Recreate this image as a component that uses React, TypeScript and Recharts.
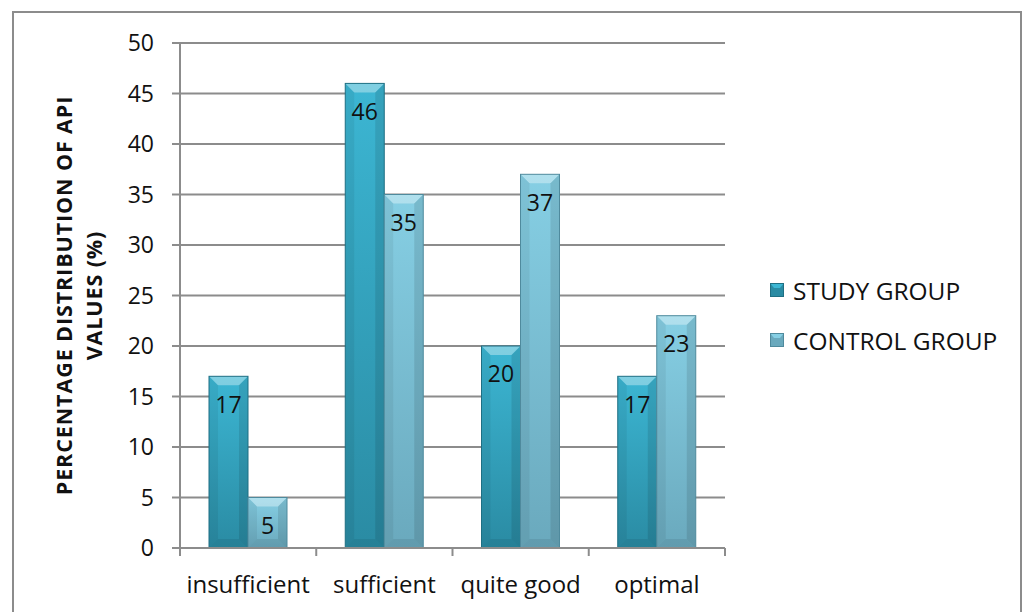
import React from 'react';
import {
  BarChart,
  Bar,
  XAxis,
  YAxis,
  CartesianGrid,
  LabelList,
  Label
} from 'recharts';

const categories = ['insufficient', 'sufficient', 'quite good', 'optimal'];
const studyGroup = [17, 46, 20, 17];
const controlGroup = [5, 35, 37, 23];
const yTicks = [0, 5, 10, 15, 20, 25, 30, 35, 40, 45, 50];

const data = categories.map((name, i) => ({
  name,
  study: studyGroup[i],
  control: controlGroup[i]
}));

const FONT = '"Open Sans", "Noto Sans", sans-serif';
const GRID = '#8c8c8c';
const BAND = (725 - 180) / categories.length;

const series = [
  { key: 'study', name: 'STUDY GROUP', top: '#3cb6d3', bottom: '#2a8ba3', edge: '#1f6f83' },
  { key: 'control', name: 'CONTROL GROUP', top: '#86cfe4', bottom: '#6aa9bd', edge: '#4f8a9d' }
];

const BevelBar = (props: any) => {
  const { x, y, width, height, gradId, edge } = props;
  if (!height || height <= 0) return null;
  const b = Math.min(9, height / 2, width / 2);
  return (
    <g>
      <rect x={x} y={y} width={width} height={height} fill={`url(#${gradId})`} />
      <polygon
        points={`${x},${y} ${x + width},${y} ${x + width - b},${y + b} ${x + b},${y + b}`}
        fill="#ffffff"
        fillOpacity={0.35}
      />
      <polygon
        points={`${x},${y} ${x + b},${y + b} ${x + b},${y + height - b} ${x},${y + height}`}
        fill="#000000"
        fillOpacity={0.06}
      />
      <polygon
        points={`${x + width},${y} ${x + width - b},${y + b} ${x + width - b},${y + height - b} ${x + width},${y + height}`}
        fill="#000000"
        fillOpacity={0.1}
      />
      <polygon
        points={`${x},${y + height} ${x + b},${y + height - b} ${x + width - b},${y + height - b} ${x + width},${y + height}`}
        fill="#000000"
        fillOpacity={0.08}
      />
      <rect x={x} y={y} width={width} height={height} fill="none" stroke={edge} strokeWidth={1} />
    </g>
  );
};

const CategoryTick = (props: any) => {
  const { x, y, payload, index } = props;
  const half = BAND / 2;
  return (
    <g>
      <line x1={x - half} y1={y - 8} x2={x - half} y2={y} stroke={GRID} strokeWidth={2} />
      {index === categories.length - 1 && (
        <line x1={x + half} y1={y - 8} x2={x + half} y2={y} stroke={GRID} strokeWidth={2} />
      )}
      <text x={x} y={y + 37} textAnchor="middle" fontFamily={FONT} fontSize={24} fill="#111">
        {payload.value}
      </text>
    </g>
  );
};

const ChartLegend = () => (
  <div
    style={{
      position: 'absolute',
      left: 770,
      top: 265,
      fontFamily: FONT,
      fontSize: 24.5,
      color: '#111'
    }}
  >
    {series.map((s) => (
      <div key={s.key} style={{ display: 'flex', alignItems: 'center', height: 50 }}>
        <svg width={14} height={14} style={{ marginRight: 9 }}>
          <rect x={0} y={0} width={14} height={14} fill={s.bottom} />
          <polygon points="0,0 14,0 10,5 4,5" fill={s.top} />
          <rect x={0.5} y={0.5} width={13} height={13} fill="none" stroke={s.edge} />
        </svg>
        <span>{s.name}</span>
      </div>
    ))}
  </div>
);

const AxisTitle = (props: any) => {
  const cy = props.viewBox ? props.viewBox.y + props.viewBox.height / 2 : 295;
  return (
    <text
      transform={`rotate(-90, 80, ${cy})`}
      x={80}
      y={cy}
      textAnchor="middle"
      fontFamily={FONT}
      fontSize={21.5}
      fontWeight="bold"
      letterSpacing={0.9}
      fill="#111"
    >
      <tspan x={80} dy={-8}>PERCENTAGE DISTRIBUTION OF API</tspan>
      <tspan x={80} dy={30}>VALUES (%)</tspan>
    </text>
  );
};

const App = () => {
  return (
    <div style={{ position: 'absolute', left: 0, top: 0, width: 1024, height: 612, background: '#fff', overflow: 'hidden' }}>
      <div
        style={{
          position: 'absolute',
          left: 12,
          top: 11,
          width: 1010,
          height: 620,
          border: '2px solid #8c8c8c',
          boxSizing: 'border-box'
        }}
      />
      <BarChart
        width={1024}
        height={612}
        data={data}
        margin={{ top: 43, right: 299, left: 120, bottom: 24 }}
        barGap={0}
        barSize={39}
        style={{ position: 'absolute', left: 0, top: 0 }}
      >
        <defs>
          {series.map((s) => (
            <linearGradient key={s.key} id={`grad-${s.key}`} x1="0" y1="0" x2="0" y2="1">
              <stop offset="0%" stopColor={s.top} />
              <stop offset="100%" stopColor={s.bottom} />
            </linearGradient>
          ))}
        </defs>
        <CartesianGrid vertical={false} stroke={GRID} strokeWidth={2} />
        <XAxis
          dataKey="name"
          height={40}
          axisLine={{ stroke: GRID, strokeWidth: 2 }}
          tickLine={false}
          tick={<CategoryTick />}
          interval={0}
        />
        <YAxis
          width={60}
          domain={[0, 50]}
          ticks={yTicks}
          interval={0}
          axisLine={{ stroke: GRID, strokeWidth: 2 }}
          tickLine={{ stroke: GRID, strokeWidth: 2 }}
          tickSize={8}
          tickMargin={18}
          tick={{ fontFamily: FONT, fontSize: 23, fill: '#111' }}
        >
          <Label content={<AxisTitle />} />
        </YAxis>
        {series.map((s) => (
          <Bar
            key={s.key}
            dataKey={s.key}
            name={s.name}
            fill={s.bottom}
            isAnimationActive={false}
            shape={(p: any) => <BevelBar {...p} gradId={`grad-${s.key}`} edge={s.edge} />}
          >
            <LabelList
              dataKey={s.key}
              position="insideTop"
              offset={20}
              fontFamily={FONT}
              fontSize={23}
              fill="#111"
            />
          </Bar>
        ))}
      </BarChart>
      <ChartLegend />
    </div>
  );
};

export default App;
